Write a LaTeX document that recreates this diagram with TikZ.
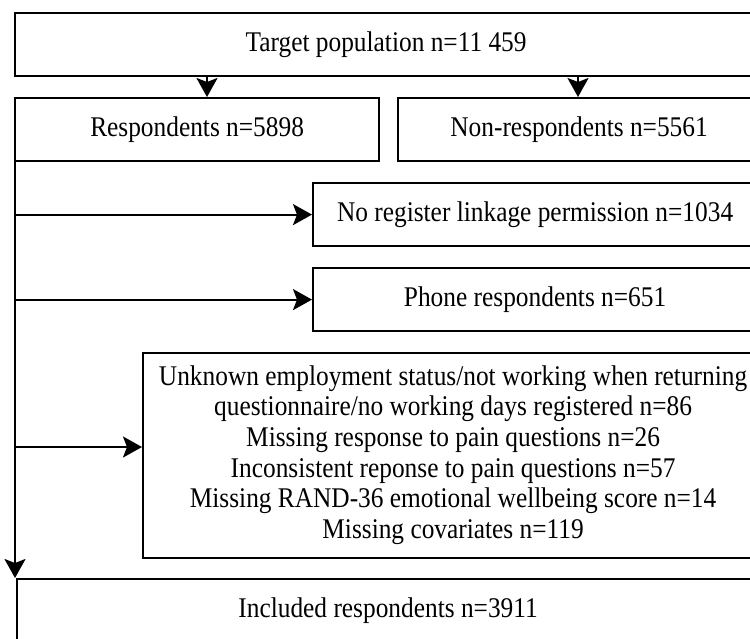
\documentclass[tikz,border=0pt]{standalone}
\usepackage{fontspec}
\setmainfont{Liberation Serif}
\usepackage{graphicx}
\usetikzlibrary{arrows.meta}
\newcommand{\sq}[1]{\scalebox{0.89}[1]{#1}}
\begin{document}
\begin{tikzpicture}[x=1pt,y=-1pt,
  box/.style={draw=black,line width=2.2pt,anchor=north west,inner sep=0pt,
    font=\fontsize{28.5}{30.6}\selectfont,align=center},
  arr/.style={line width=2.2pt,-{Stealth[length=19pt,width=21pt,inset=4pt]}}]
\useasboundingbox (0,0) rectangle (750,638);
\clip (0,0) rectangle (750,638);
\fill[white] (0,0) rectangle (750,638);
\node[box,minimum width=742pt,minimum height=63pt] (tgt) at (14,12) {\sq{Target population n=11 459}};
\node[box,minimum width=364pt,minimum height=63pt] (resp) at (14,97) {\sq{Respondents n=5898}};
\node[box,minimum width=362pt,minimum height=63pt] (nonr) at (397,97) {\sq{Non-respondents n=5561}};
\node[box,minimum width=444pt,minimum height=63pt] (noreg) at (312,182) {\sq{No register linkage permission n=1034}};
\node[box,minimum width=444pt,minimum height=63pt] (phone) at (312,267) {\sq{Phone respondents n=651}};
\node[box,minimum width=620pt,minimum height=205pt] (big) at (142,352) {\sq{\begin{tabular}{@{}c@{}}Unknown employment status/not working when returning\\ questionnaire/no working days registered n=86\\ Missing response to pain questions n=26\\ Inconsistent reponse to pain questions n=57\\ Missing RAND-36 emotional wellbeing score n=14\\ Missing covariates n=119\end{tabular}}};
\node[box,minimum width=742pt,minimum height=64pt] (incl) at (16,578) {\sq{Included respondents n=3911}};
\coordinate (a1) at (207,0);
\coordinate (a2) at (578,0);
\coordinate (tr) at (15,0);
\coordinate (b3) at (142,447);
\draw[arr] (tgt.south -| a1) -- (resp.north -| a1);
\draw[arr] (tgt.south -| a2) -- (nonr.north -| a2);
\draw[arr] (resp.south -| tr) -- (incl.north -| tr);
\draw[arr] (noreg.west -| tr) -- (noreg.west);
\draw[arr] (phone.west -| tr) -- (phone.west);
\draw[arr] (b3 -| tr) -- (b3);
\end{tikzpicture}
\end{document}
